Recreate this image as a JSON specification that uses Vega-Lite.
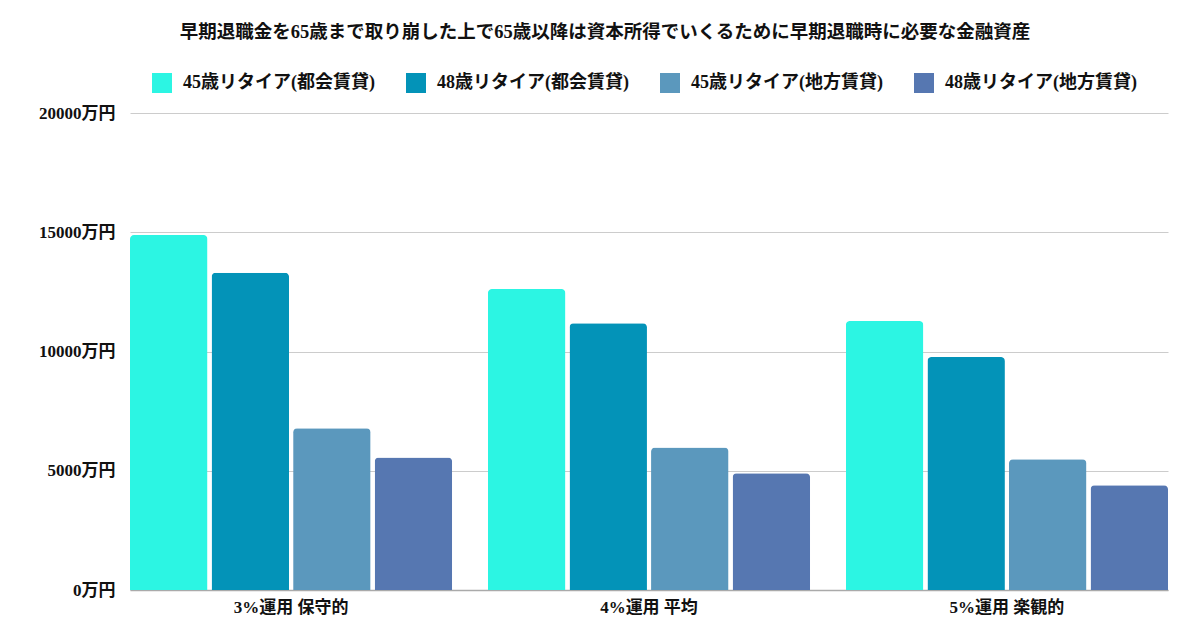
{
  "$schema": "https://vega.github.io/schema/vega-lite/v6.json",
  "autosize": {"type": "none"},
  "width": 1038,
  "height": 477,
  "padding": {"left": 130, "top": 113, "right": 32, "bottom": 40},
  "background": "#ffffff",
  "title": {
    "text": "早期退職金を65歳まで取り崩した上で65歳以降は資本所得でいくるために早期退職時に必要な金融資産",
    "fontSize": 18.5,
    "fontWeight": "bold",
    "font": "Liberation Serif, Noto Sans CJK JP",
    "color": "#111111",
    "anchor": "middle",
    "dx": -44,
    "offset": 32
  },
  "data": {
    "values": [
      {"group": "3%運用 保守的", "series": "45歳リタイア(都会賃貸)", "value": 14880},
      {"group": "3%運用 保守的", "series": "48歳リタイア(都会賃貸)", "value": 13300},
      {"group": "3%運用 保守的", "series": "45歳リタイア(地方賃貸)", "value": 6780},
      {"group": "3%運用 保守的", "series": "48歳リタイア(地方賃貸)", "value": 5560},
      {"group": "4%運用 平均", "series": "45歳リタイア(都会賃貸)", "value": 12620},
      {"group": "4%運用 平均", "series": "48歳リタイア(都会賃貸)", "value": 11180},
      {"group": "4%運用 平均", "series": "45歳リタイア(地方賃貸)", "value": 5970},
      {"group": "4%運用 平均", "series": "48歳リタイア(地方賃貸)", "value": 4890},
      {"group": "5%運用 楽観的", "series": "45歳リタイア(都会賃貸)", "value": 11280},
      {"group": "5%運用 楽観的", "series": "48歳リタイア(都会賃貸)", "value": 9770},
      {"group": "5%運用 楽観的", "series": "45歳リタイア(地方賃貸)", "value": 5480},
      {"group": "5%運用 楽観的", "series": "48歳リタイア(地方賃貸)", "value": 4390}
    ]
  },
  "mark": {"type": "bar", "cornerRadiusTopLeft": 4, "cornerRadiusTopRight": 4},
  "encoding": {
    "x": {
      "field": "group",
      "type": "nominal",
      "sort": null,
      "scale": {"paddingInner": 0.1, "paddingOuter": 0},
      "axis": {
        "title": null,
        "labelAngle": 0,
        "ticks": false,
        "labelPadding": 9,
        "labelFontSize": 17,
        "labelFontWeight": "bold",
        "labelFont": "Liberation Serif, Noto Sans CJK JP",
        "labelColor": "#111111",
        "domainColor": "#aaaaaa",
        "domainWidth": 1.5
      }
    },
    "xOffset": {
      "field": "series",
      "type": "nominal",
      "sort": null,
      "scale": {"paddingInner": 0.05, "paddingOuter": 0}
    },
    "y": {
      "field": "value",
      "type": "quantitative",
      "scale": {"domain": [0, 20000]},
      "axis": {
        "title": null,
        "values": [0, 5000, 10000, 15000, 20000],
        "labelExpr": "datum.value + '万円'",
        "domain": false,
        "ticks": false,
        "labelPadding": 15,
        "labelFontSize": 17,
        "labelFontWeight": "bold",
        "labelFont": "Liberation Serif, Noto Sans CJK JP",
        "labelColor": "#111111",
        "gridColor": "#cccccc",
        "gridWidth": 1
      }
    },
    "color": {
      "field": "series",
      "type": "nominal",
      "sort": null,
      "scale": {
        "domain": ["45歳リタイア(都会賃貸)", "48歳リタイア(都会賃貸)", "45歳リタイア(地方賃貸)", "48歳リタイア(地方賃貸)"],
        "range": ["#2cf5e3", "#0393b8", "#5b98bd", "#5677b1"]
      },
      "legend": {
        "title": null,
        "orient": "none",
        "direction": "horizontal",
        "legendX": 22,
        "legendY": -40,
        "symbolType": "square",
        "symbolSize": 400,
        "symbolStrokeWidth": 0,
        "labelFontSize": 18,
        "labelFontWeight": "bold",
        "labelFont": "Liberation Serif, Noto Sans CJK JP",
        "labelColor": "#111111",
        "labelOffset": 11,
        "columnPadding": 31,
        "labelLimit": 300
      }
    }
  },
  "config": {"view": {"stroke": null}}
}
